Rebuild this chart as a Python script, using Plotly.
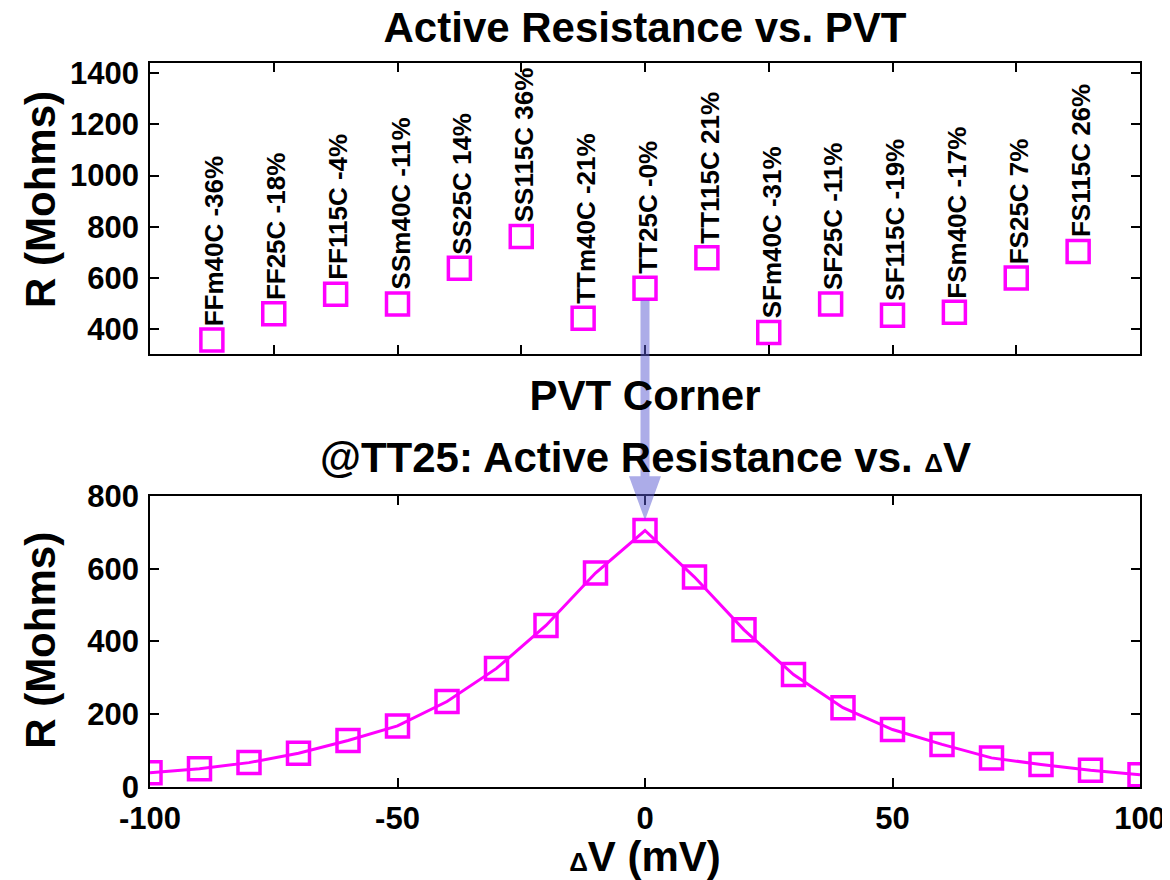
import plotly.graph_objects as go

# PVT corners (top panel)
corners = ["FFm40C", "FF25C", "FF115C", "SSm40C", "SS25C", "SS115C", "TTm40C", "TT25C",
           "TT115C", "SFm40C", "SF25C", "SF115C", "FSm40C", "FS25C", "FS115C"]
corner_pct = ["-36%", "-18%", "-4%", "-11%", "14%", "36%", "-21%", "-0%",
              "21%", "-31%", "-11%", "-19%", "-17%", "7%", "26%"]
corner_r = [358, 460, 537, 499, 638, 762, 443, 560, 679, 387, 499, 455, 466, 600, 704]

# @TT25 sweep of delta V (bottom panel)
dv = [-100, -90, -80, -70, -60, -50, -40, -30, -20, -10, 0,
      10, 20, 30, 40, 50, 60, 70, 80, 90, 100]
dv_r = [39, 50, 67, 93, 128, 168, 235, 326, 444, 588, 705,
        577, 432, 309, 218, 158, 117, 80, 62, 46, 34]

dv_ticks = [-100, -50, 0, 50, 100]
dv_ticktext = ["-100", "-50", "0", "50", "100"]
r_ticks_top = [400, 600, 800, 1000, 1200, 1400]
r_ticks_bottom = [0, 200, 400, 600, 800]

MAGENTA = "#FF00FF"
FONT = "Liberation Sans, Arial, sans-serif"

TOP_DOMAIN = [0.598, 1.0]
BOT_DOMAIN = [0.0, 0.402]
TOP_YRANGE = [303, 1440]
TOP_XRANGE = [0, 16]

corner_x = list(range(1, len(corners) + 1))

fig = go.Figure()

square = dict(symbol="square-open", size=22, color=MAGENTA, line=dict(width=3.5, color=MAGENTA))

fig.add_trace(go.Scatter(
    x=corner_x, y=corner_r, mode="markers", marker=square,
    xaxis="x", yaxis="y", showlegend=False, hoverinfo="skip",
))

fig.add_trace(go.Scatter(
    x=dv, y=dv_r, mode="lines+markers",
    line=dict(color=MAGENTA, width=3), marker=square,
    xaxis="x2", yaxis="y2", showlegend=False,
))

title_font = dict(size=42, color="black", family=FONT, weight="bold")

# rotated labels above each corner marker
annotations = []
for xi, name, pct, r in zip(corner_x, corners, corner_pct, corner_r):
    annotations.append(dict(
        x=xi, y=r, xref="x", yref="y", text=f"{name} {pct}", showarrow=False,
        textangle=-90, xanchor="center", yanchor="bottom", xshift=3, yshift=12,
        font=dict(size=26, color="black", family=FONT, weight="bold"),
    ))

annotations.append(dict(
    x=0.5, y=0.455, xref="paper", yref="paper",
    text='@TT25: Active Resistance vs. <span style="font-size:26px">Δ</span>V',
    showarrow=False, xanchor="center", yanchor="middle", font=title_font,
))

# y-axis titles
for yc in (0.811, 0.202):
    annotations.append(dict(
        x=-0.110, y=yc, xref="paper", yref="paper", text="R (Mohms)",
        showarrow=False, textangle=-90, xanchor="center", yanchor="middle", font=title_font,
    ))

axis_common = dict(
    showgrid=False, zeroline=False, showline=True, linecolor="black", linewidth=1.5,
    mirror="ticks", ticks="inside", ticklen=9, tickwidth=1.5, tickcolor="black",
    automargin=False, ticklabelstandoff=3,
    tickfont=dict(size=31, color="black", family=FONT, weight="bold"),
)

fig.update_layout(
    width=1162, height=872,
    margin=dict(l=142, r=30, t=55, b=93),
    plot_bgcolor="white", paper_bgcolor="white",
    title=dict(text="Active Resistance vs. PVT", x=0.5, xref="paper", xanchor="center",
               y=0.978, yanchor="middle", font=title_font),
    xaxis=dict(axis_common, domain=[0, 1], anchor="y", range=TOP_XRANGE,
               tickmode="array", tickvals=list(range(0, 17, 2)), showticklabels=False,
               title=dict(text="PVT Corner", font=title_font, standoff=26)),
    yaxis=dict(axis_common, domain=TOP_DOMAIN, anchor="x", range=TOP_YRANGE,
               tickmode="array", tickvals=r_ticks_top),
    xaxis2=dict(axis_common, domain=[0, 1], anchor="y2", range=[-100, 100],
                tickmode="array", tickvals=dv_ticks, ticktext=dv_ticktext,
                title=dict(text='<span style="font-size:26px">Δ</span>V (mV)', font=title_font, standoff=8)),
    yaxis2=dict(axis_common, domain=BOT_DOMAIN, anchor="x2", range=[0, 800],
                tickmode="array", tickvals=r_ticks_bottom),
    annotations=annotations,
)

# translucent arrow from TT25C down to the TT25 peak (paper refs so it is not clipped)
i_tt = corners.index("TT25C")
ax = (corner_x[i_tt] - TOP_XRANGE[0]) / (TOP_XRANGE[1] - TOP_XRANGE[0])
ay = TOP_DOMAIN[0] + (corner_r[i_tt] - TOP_YRANGE[0]) / (TOP_YRANGE[1] - TOP_YRANGE[0]) * (TOP_DOMAIN[1] - TOP_DOMAIN[0])
fig.add_shape(
    type="path", xref="paper", yref="paper", xsizemode="pixel", ysizemode="pixel",
    xanchor=ax, yanchor=ay,
    path="M -4.5,-12 L 4.5,-12 L 4.5,-188 L 16,-188 L 0,-232 L -16,-188 L -4.5,-188 Z",
    fillcolor="rgb(90,90,210)", opacity=0.5, line=dict(width=0), layer="above",
)

fig.write_html("out.html")
